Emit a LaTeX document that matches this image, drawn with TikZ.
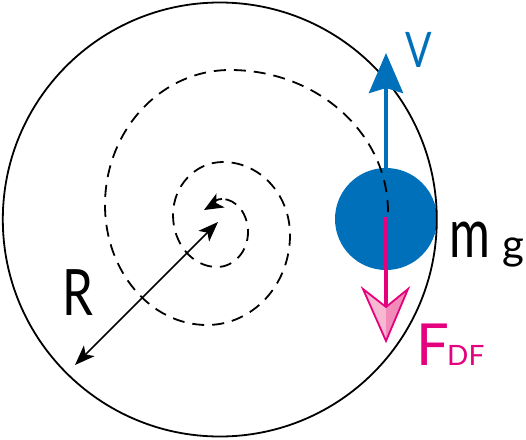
\documentclass[tikz,border=0pt]{standalone}
\usepackage{fontspec}
\setmainfont{Lato}
\usetikzlibrary{arrows.meta}
\definecolor{ballblue}{HTML}{0070BA}
\definecolor{fpink}{HTML}{E5007D}
\definecolor{pinklight}{HTML}{F7B8D2}
\definecolor{pinkmid}{HTML}{F18BB9}
\begin{document}
\begin{tikzpicture}[x=1pt,y=-1pt,
  lbl/.style={inner sep=0pt, anchor=base west},
  wheel/.style={line width=1.8pt},
  spiralpath/.style={line width=1.8pt, dash pattern=on 12pt off 8pt},
  spiraltip/.style={line width=1.8pt, -{Stealth[length=19pt,width=16pt,inset=5pt]}},
  radius arrow/.style={line width=1.6pt, {Stealth[length=20pt,width=15pt,inset=5pt]}-{Stealth[length=20pt,width=15pt,inset=5pt]}},
  vel/.style={ballblue, line width=4pt, -{Stealth[length=40pt,width=34pt,inset=5pt]}},
  force/.style={fpink, line width=4pt},
  forcehead/.style={draw=fpink, line width=1.8pt, line join=miter}]
\useasboundingbox (0,0) rectangle (526,439);
% ball
\node[circle, fill=ballblue, minimum size=102pt, inner sep=0pt] (ball) at (386,219) {};
% outer circle
\draw[wheel] (219.8,219.5) circle [radius=217pt];
% spiral path (chain of quarter ellipses)
\coordinate (s0) at (388,212);
\draw[spiralpath] (s0)
  arc[start angle=0,   end angle=90,  x radius=158pt, y radius=142pt]
  arc[start angle=90,  end angle=180, x radius=125pt, y radius=135pt]
  arc[start angle=180, end angle=270, x radius=102pt, y radius=120pt]
  arc[start angle=270, end angle=360, x radius=83pt,  y radius=90pt]
  arc[start angle=0,   end angle=90,  x radius=67pt,  y radius=73pt]
  arc[start angle=90,  end angle=180, x radius=50pt,  y radius=53pt]
  arc[start angle=180, end angle=270, x radius=44pt,  y radius=52pt]
  arc[start angle=270, end angle=360, x radius=31pt,  y radius=35pt]
  arc[start angle=0,   end angle=90,  x radius=26pt,  y radius=33pt] coordinate (s9);
\coordinate (stip) at (204,210);
\draw[spiraltip] (s9) to[out=180, in=30] (stip);
% radius arrow
\coordinate (ra) at (75,365);
\coordinate (rb) at (218,222);
\draw[radius arrow] (ra) -- (rb);
% velocity arrow
\coordinate (vtip) at (386,53);
\draw[vel] (ball.north) -- (vtip);
% force arrow
\coordinate (fstart) at (386,217);
\coordinate (fnotch) at (386,307);
\coordinate (ftip) at (386,341);
\coordinate (fl) at (363,289);
\coordinate (fr) at (408,289);
\draw[force] (fstart) -- (fnotch);
\fill[pinklight] (fnotch) -- (fl) -- (ftip) -- cycle;
\fill[pinkmid] (fnotch) -- (fr) -- (ftip) -- cycle;
\draw[forcehead] (fnotch) -- (fl) -- (ftip) -- (fr) -- cycle;
% labels
\node[lbl, text=ballblue, font=\fontsize{49}{49}\selectfont] (v) at (405,67) {\scalebox{0.8}[1]{V}};
\node[lbl, font=\fontsize{64}{64}\selectfont] (r) at (62,315) {\scalebox{0.77}[1]{R}};
\node[lbl, font=\fontsize{69}{69}\selectfont] (m) at (449,257) {\scalebox{0.72}[1]{m}};
\node[lbl, font=\fontsize{42}{42}\selectfont] (g) at (502,259) {g};
\node[lbl, text=fpink, font=\fontsize{58}{58}\selectfont] (f) at (416,365) {F};
\node[lbl, text=fpink, font=\fontsize{28}{28}\selectfont] (df) at (447,365) {DF};
\end{tikzpicture}
\end{document}
